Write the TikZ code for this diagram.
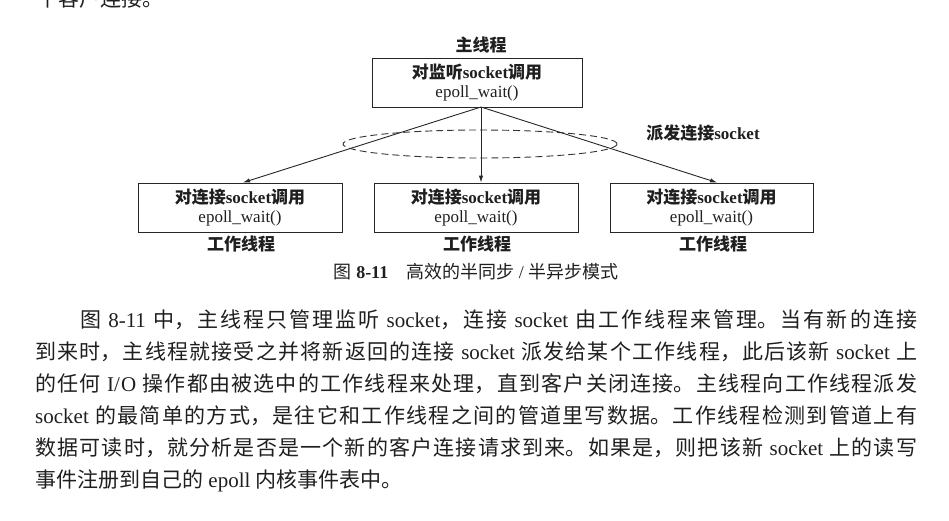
\documentclass[tikz,border=0pt]{standalone}
\usepackage{fontspec}
\setmainfont{Liberation Serif}
\newfontfamily\cjk{Noto Sans CJK SC}
\usetikzlibrary{arrows.meta,shapes.geometric}
% inter-character glue so Chinese lines can be justified
\XeTeXlinebreaklocale "zh"
\XeTeXlinebreakskip=0pt plus 3pt
\newcommand\dgfont{\fontsize{17}{19}\selectfont}
\newcommand\bodyfont{\fontsize{21}{32}\selectfont}
\newcommand\zb[1]{{\cjk\bfseries #1}}
\newcommand\zh[1]{{\cjk #1}}
\begin{document}
\begin{tikzpicture}[x=1pt,y=-1pt,
  every node/.style={text=black!88},
  box/.style={draw=black!85, line width=0.9pt, minimum width=204pt,
    minimum height=49pt, inner sep=0pt, align=center, font=\dgfont},
  tag/.style={font=\dgfont, inner sep=0pt},
  feed/.style={draw=black!85, line width=0.9pt,
    -{Latex[length=7pt,width=4.5pt]}},
]
\clip (0,0) rectangle (949,520);

% tail of the preceding paragraph
\node[anchor=base west, inner sep=0pt, font=\bodyfont] (prev) at (37,6)
  {\zh{个客户连接。}};

% main thread
\node[tag] (mainlbl) at (481,45) {\zb{主线程}};
\node[box, minimum width=210pt] (main) at (477,82.5)
  {\zb{对监听}\textbf{socket}\zb{调用}\\epoll\_wait()};
\coordinate (src) at (481,107);

% worker threads
\node[box] (w1) at (240,207.5)
  {\zb{对连接}\textbf{socket}\zb{调用}\\epoll\_wait()};
\node[box] (w2) at (476,207.5)
  {\zb{对连接}\textbf{socket}\zb{调用}\\epoll\_wait()};
\node[box, minimum width=203pt] (w3) at (711.5,207.5)
  {\zb{对连接}\textbf{socket}\zb{调用}\\epoll\_wait()};
\node[tag] (w1lbl) at (241,244) {\zb{工作线程}};
\node[tag] (w2lbl) at (477,244) {\zb{工作线程}};
\node[tag] (w3lbl) at (713,244) {\zb{工作线程}};

% dispatch region
\node[ellipse, draw=black!80, line width=0.9pt, dash pattern=on 7pt off 4pt,
  minimum width=274pt, minimum height=28pt, inner sep=0pt] (disp) at (480,144) {};
\node[tag] (displbl) at (703,133) {\zb{派发连接}\textbf{socket}};

\draw[feed] (src) -- ([xshift=3pt]w1.north);
\draw[feed] (src) -- ([xshift=5pt]w2.north);
\draw[feed] (src) -- ([xshift=5.5pt]w3.north);

% caption
\node[font=\fontsize{18}{20}\selectfont, inner sep=0pt] (cap) at (476,272)
  {\zh{图} \textbf{8-11}\hspace{1em}\zh{高效的半同步} / \zh{半异步模式}};

% body paragraph
\node[anchor=base west, inner sep=0pt, font=\bodyfont] (para) at (35,327)
  {\parbox[t]{882pt}{\bodyfont\hspace*{45pt}\zh{图} 8-11 \zh{中，主线程只管理监听} socket\zh{，连接} socket \zh{由工作线程来管理。当有新的连接}\linebreak
  \zh{到来时，主线程就接受之并将新返回的连接} socket \zh{派发给某个工作线程，此后该新} socket \zh{上}\linebreak
  \zh{的任何} I/O \zh{操作都由被选中的工作线程来处理，直到客户关闭连接。主线程向工作线程派发}\linebreak
  socket \zh{的最简单的方式，是往它和工作线程之间的管道里写数据。工作线程检测到管道上有}\linebreak
  \zh{数据可读时，就分析是否是一个新的客户连接请求到来。如果是，则把该新} socket \zh{上的读写}\linebreak
  \zh{事件注册到自己的} epoll \zh{内核事件表中。}}};
\end{tikzpicture}
\end{document}
